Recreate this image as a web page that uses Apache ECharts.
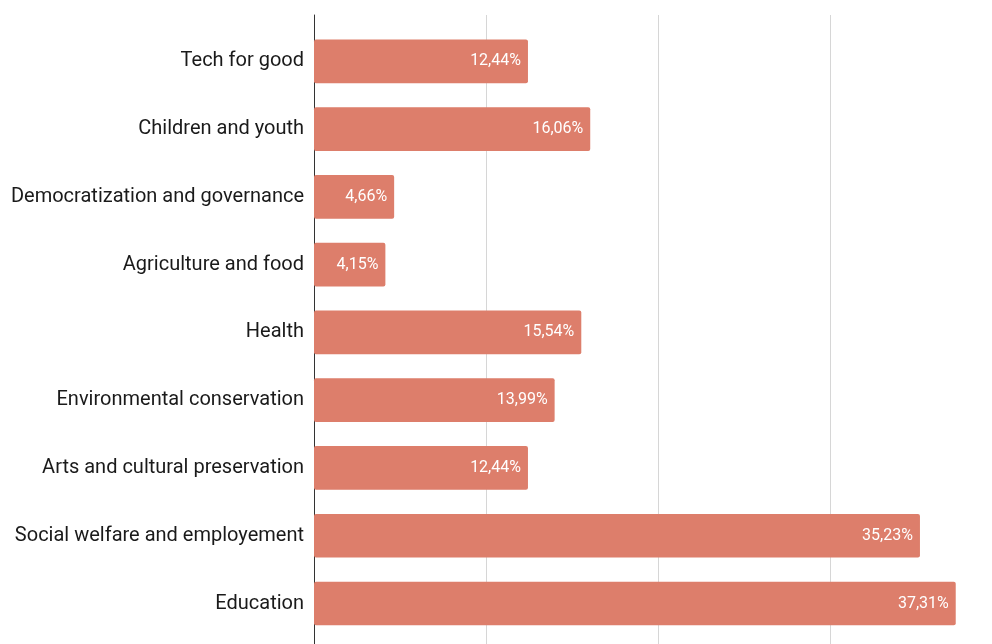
<!DOCTYPE html>
<html>
<head>
<meta charset="utf-8">
<script src="https://cdn.jsdelivr.net/npm/echarts@6/dist/echarts.min.js"></script>
<style>
  html, body { margin: 0; padding: 0; background: #ffffff; }
  #chart { width: 992px; height: 644px; }
</style>
</head>
<body>
<div id="chart"></div>
<script>
// Share of projects per focus area (percent)
const categories = [
  'Tech for good',
  'Children and youth',
  'Democratization and governance',
  'Agriculture and food',
  'Health',
  'Environmental conservation',
  'Arts and cultural preservation',
  'Social welfare and employement',
  'Education'
];
const shares = [12.44, 16.06, 4.66, 4.15, 15.54, 13.99, 12.44, 35.23, 37.31];

const xMin = 0;
const xMax = 40;
const xStep = 10;

const fmt = v => v.toFixed(2).replace('.', ',') + '%';

const chart = echarts.init(document.getElementById('chart'));
chart.setOption({
  animation: false,
  grid: [
    // bars
    { left: 314, right: -10, top: 27.4, height: 610, outerBoundsMode: 'none' },
    // background frame: gridlines and baseline spanning full height
    { left: 314, right: -10, top: 15, height: 650, outerBoundsMode: 'none' }
  ],
  xAxis: [
    {
      gridIndex: 0, type: 'value', min: xMin, max: xMax, interval: xStep,
      axisLine: { show: false }, axisTick: { show: false },
      axisLabel: { show: false }, splitLine: { show: false }
    },
    {
      gridIndex: 1, type: 'value', min: xMin, max: xMax, interval: xStep,
      axisLine: { show: false }, axisTick: { show: false },
      axisLabel: { show: false },
      splitLine: { show: true, lineStyle: { color: '#d6d6d6', width: 1 } }
    }
  ],
  yAxis: [
    {
      gridIndex: 0, type: 'category', data: categories, inverse: true,
      axisLine: { show: false }, axisTick: { show: false },
      axisLabel: {
        margin: 10, fontFamily: 'Roboto', fontSize: 20, color: '#1a1a1a',
        padding: [6, 0, 0, 0]
      }
    },
    {
      gridIndex: 1, type: 'value', min: 0, max: 1,
      axisLine: { show: true, onZero: false, lineStyle: { color: '#333333', width: 1 } },
      axisTick: { show: false }, axisLabel: { show: false }, splitLine: { show: false }
    }
  ],
  series: [
    {
      type: 'bar',
      xAxisIndex: 0, yAxisIndex: 0,
      data: shares,
      barCategoryGap: '35.5%',
      itemStyle: { color: '#dd7e6b', borderRadius: 2 },
      z: 3,
      label: {
        show: true,
        position: 'insideRight',
        distance: 7,
        fontFamily: 'Roboto',
        fontSize: 16,
        color: '#ffffff',
        formatter: p => fmt(p.value)
      }
    }
  ]
});
</script>
</body>
</html>
